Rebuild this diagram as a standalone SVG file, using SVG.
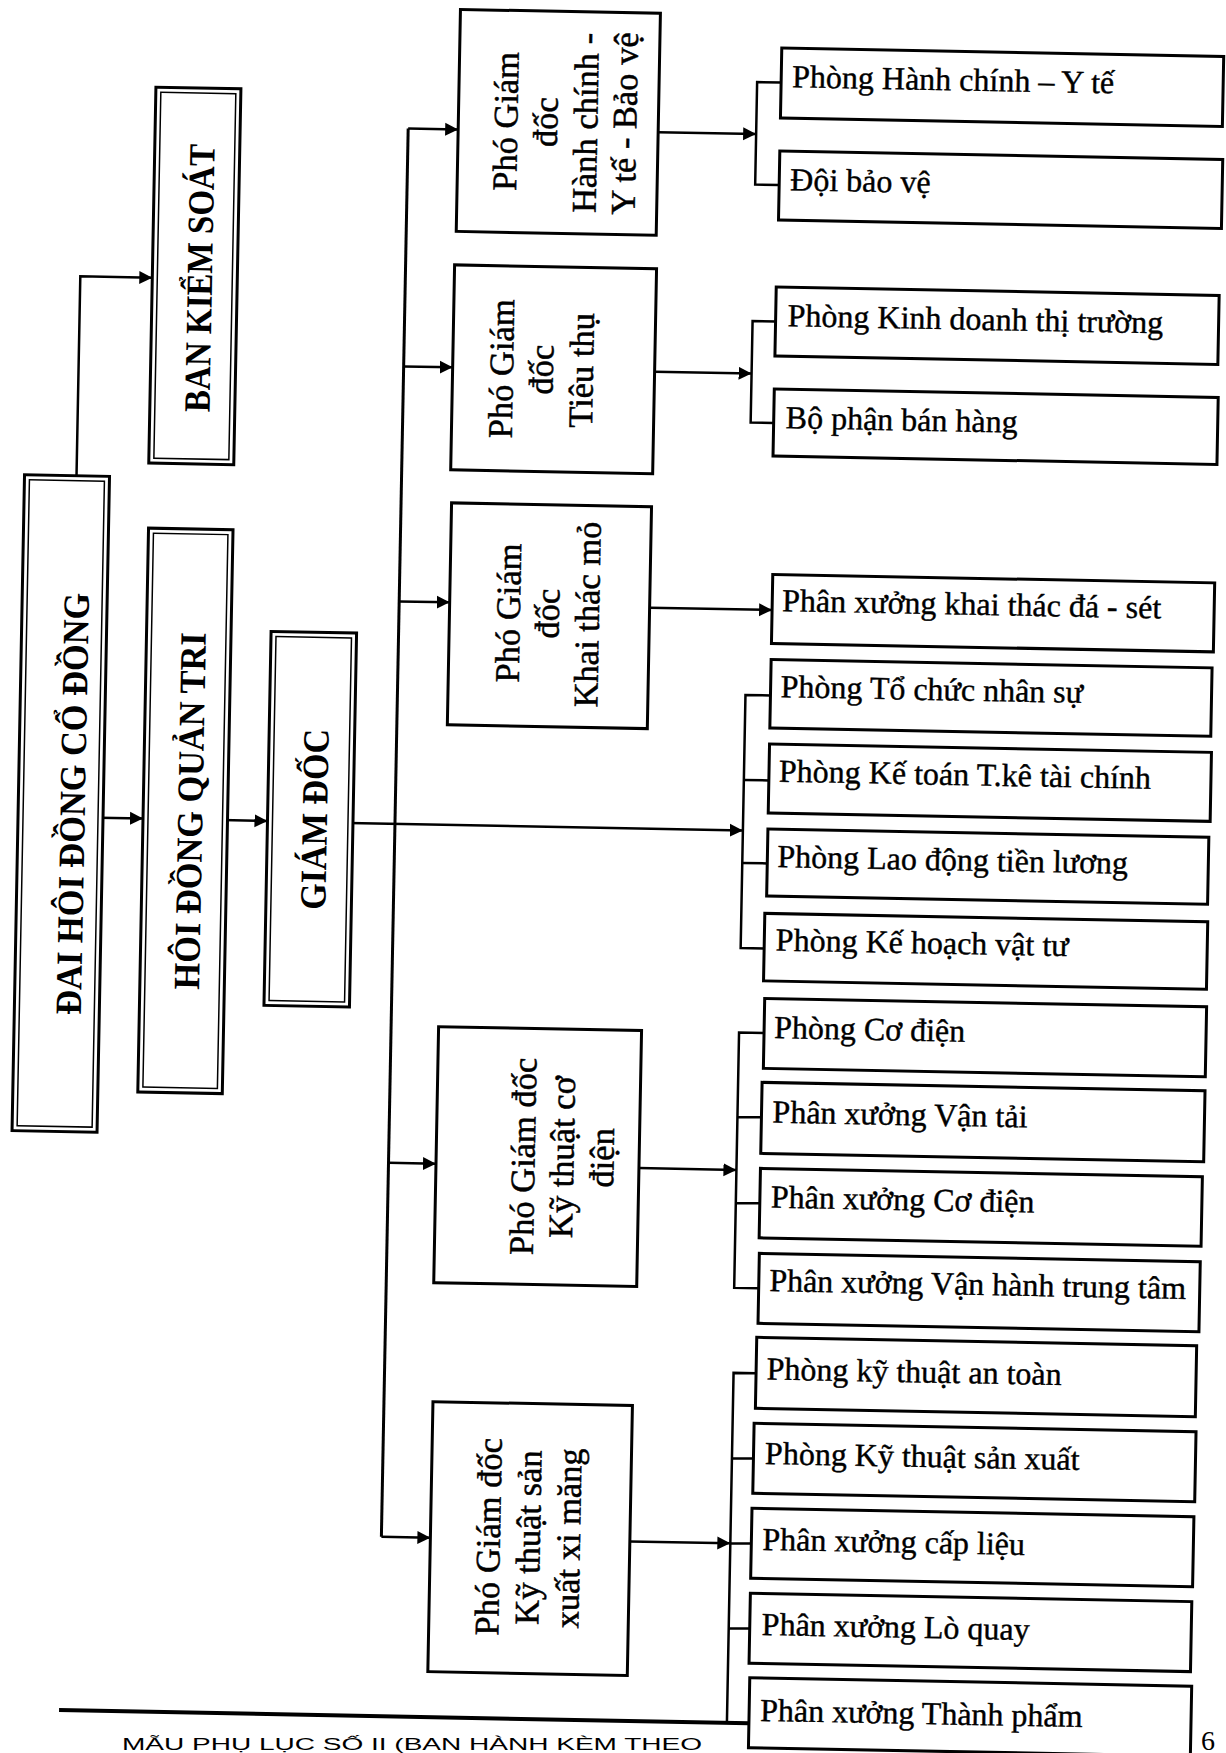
<svg xmlns="http://www.w3.org/2000/svg" width="1226" height="1753" viewBox="0 0 1226 1753">
<style>
.box{fill:#fff;stroke:#000;stroke-width:3}
.inner{fill:none;stroke:#000;stroke-width:1.5}
.conn{fill:none;stroke:#000;stroke-width:2.5}
.rule{fill:none;stroke:#000;stroke-width:4}
.tl{font-family:"Liberation Serif","Times New Roman",serif;font-weight:bold;font-size:37px;fill:#000}
.tp{font-family:"Liberation Serif","Times New Roman",serif;font-size:34.5px;fill:#000;stroke:#000;stroke-width:0.5}
.tb{font-family:"Liberation Serif","Times New Roman",serif;font-size:32px;fill:#000;stroke:#000;stroke-width:0.4}
.tf{font-family:"Liberation Sans",Arial,sans-serif;font-size:16px;fill:#000}
.tn{font-family:"Liberation Serif","Times New Roman",serif;font-size:28px;fill:#000}
</style>
<defs>
<marker id="arr" markerUnits="userSpaceOnUse" markerWidth="14" markerHeight="14" refX="13" refY="7" orient="auto" viewBox="0 0 14 14">
<path d="M0,0.5 L13,7 L0,13.5 z" fill="#000"/>
</marker>
</defs>
<rect x="0" y="0" width="1226" height="1753" fill="#fff"/>
<g transform="rotate(1.09 613 876)">
<g id="connectors">
<path class="conn" d="M69,486 V286.5 H141" marker-end="url(#arr)"/>
<path class="conn" d="M98,827.5 H142" marker-end="url(#arr)"/>
<path class="conn" d="M221,827.5 H266.5" marker-end="url(#arr)"/>
<path class="conn" d="M348,828 H742" marker-end="url(#arr)"/>
<path class="conn" style="stroke-width:3" d="M394,132.5 V1541"/>
<path class="conn" d="M394,132.5 H444" marker-end="url(#arr)"/>
<path class="conn" d="M394,370.5 H443" marker-end="url(#arr)"/>
<path class="conn" d="M394,605.5 H444.5" marker-end="url(#arr)"/>
<path class="conn" d="M394,1167 H441.5" marker-end="url(#arr)"/>
<path class="conn" d="M394,1541 H443" marker-end="url(#arr)"/>
<path class="conn" d="M644,131.5 H742" marker-end="url(#arr)"/>
<path class="conn" d="M766,79.5 H742 V182 H766"/>
<path class="conn" d="M645,371 H742" marker-end="url(#arr)"/>
<path class="conn" d="M765,318.5 H742 V420 H765"/>
<path class="conn" d="M644.5,607 H767" marker-end="url(#arr)"/>
<path class="conn" d="M767,692.5 H742 V945.5 H765.5"/>
<path class="conn" d="M742,777.5 H767 M742,860.5 H767"/>
<path class="conn" d="M644.5,1167.5 H742" marker-end="url(#arr)"/>
<path class="conn" d="M767,1030 H742 V1285.5 H766.5 M742,1114.5 H766 M742,1200.5 H766"/>
<path class="conn" d="M642.5,1541 H743" marker-end="url(#arr)"/>
<path class="conn" d="M765.5,1370.5 H743 V1720.5 H765 M743,1455.8 H764.5 M743,1540.8 H764 M743,1625.8 H764"/>
</g>
<g id="footer-rule"><path class="rule" d="M75,1720.5 H765"/></g>

<g id="dai-hoi-dong-co-dong">
<rect class="box" x="17" y="486" width="85" height="656"/>
<rect class="inner" x="22" y="491" width="75" height="646"/>
<text class="tl" transform="translate(83.6,814) rotate(-90)" text-anchor="middle" textLength="422" lengthAdjust="spacingAndGlyphs">ĐAI HÔI ĐỒNG CỔ ĐỒNG</text>
</g>
<g id="ban-kiem-soat">
<rect class="box" x="141" y="96" width="85" height="376"/>
<rect class="inner" x="146" y="101" width="75" height="366"/>
<text class="tl" transform="translate(200.7,286) rotate(-90)" text-anchor="middle" textLength="268" lengthAdjust="spacingAndGlyphs">BAN KIỂM SOÁT</text>
</g>
<g id="hoi-dong-quan-tri">
<rect class="box" x="142" y="537" width="84.5" height="564"/>
<rect class="inner" x="147" y="542" width="74.5" height="554"/>
<text class="tl" transform="translate(201.3,819) rotate(-90)" text-anchor="middle" textLength="357" lengthAdjust="spacingAndGlyphs">HÔI ĐỒNG QUẢN TRI</text>
</g>
<g id="giam-doc">
<rect class="box" x="266.5" y="638" width="85.5" height="374"/>
<rect class="inner" x="271.5" y="643" width="75.5" height="364"/>
<text class="tl" transform="translate(325.9,825) rotate(-90)" text-anchor="middle" textLength="181" lengthAdjust="spacingAndGlyphs">GIÁM ĐỐC</text>
</g>

<g id="pgd-hanh-chinh">
<rect class="box" x="444" y="12.5" width="200" height="222"/>
<text class="tp" transform="translate(503,123.5) rotate(-90)" text-anchor="middle">Phó Giám</text>
<text class="tp" transform="translate(543,123.5) rotate(-90)" text-anchor="middle">đốc</text>
<text class="tp" transform="translate(583,123.5) rotate(-90)" text-anchor="middle">Hành chính -</text>
<text class="tp" transform="translate(622,123.5) rotate(-90)" text-anchor="middle">Y tế - Bảo vệ</text>
</g>
<g id="pgd-tieu-thu">
<rect class="box" x="443" y="268" width="202" height="205"/>
<text class="tp" transform="translate(503.4,371) rotate(-90)" text-anchor="middle">Phó Giám</text>
<text class="tp" transform="translate(543.4,371) rotate(-90)" text-anchor="middle">đốc</text>
<text class="tp" transform="translate(583.4,371) rotate(-90)" text-anchor="middle">Tiêu thụ</text>
</g>
<g id="pgd-khai-thac-mo">
<rect class="box" x="444.5" y="506" width="200" height="222"/>
<text class="tp" transform="translate(515,615) rotate(-90)" text-anchor="middle">Phó Giám</text>
<text class="tp" transform="translate(554,615) rotate(-90)" text-anchor="middle">đốc</text>
<text class="tp" transform="translate(594,615) rotate(-90)" text-anchor="middle">Khai thác mỏ</text>
</g>
<g id="pgd-ky-thuat-co-dien">
<rect class="box" x="441.5" y="1030" width="203" height="256"/>
<text class="tp" transform="translate(540,1158) rotate(-90)" text-anchor="middle">Phó Giám đốc</text>
<text class="tp" transform="translate(579,1158) rotate(-90)" text-anchor="middle">Kỹ thuật cơ</text>
<text class="tp" transform="translate(619,1158) rotate(-90)" text-anchor="middle">điện</text>
</g>
<g id="pgd-ky-thuat-san-xuat">
<rect class="box" x="443" y="1405" width="199.5" height="270"/>
<text class="tp" transform="translate(512.6,1539) rotate(-90)" text-anchor="middle">Phó Giám đốc</text>
<text class="tp" transform="translate(552.6,1539) rotate(-90)" text-anchor="middle">Kỹ thuật sản</text>
<text class="tp" transform="translate(592.6,1539) rotate(-90)" text-anchor="middle">xuất xi măng</text>
</g>

<g id="phong-hanh-chinh"><rect class="box" x="766" y="45" width="442" height="70"/><text class="tb" x="777" y="84">Phòng Hành chính – Y tế</text></g>
<g id="doi-bao-ve"><rect class="box" x="766" y="148" width="443" height="69"/><text class="tb" x="777" y="187">Đội bảo vệ</text></g>
<g id="phong-kinh-doanh"><rect class="box" x="765" y="284" width="443" height="69"/><text class="tb" x="777" y="323">Phòng Kinh doanh thị trường</text></g>
<g id="bo-phan-ban-hang"><rect class="box" x="765" y="386" width="444" height="67"/><text class="tb" x="777" y="425">Bộ phận bán hàng</text></g>
<g id="px-khai-thac"><rect class="box" x="767" y="571.5" width="442" height="69"/><text class="tb" x="777" y="608">Phân xưởng khai thác đá - sét</text></g>
<g id="phong-to-chuc"><rect class="box" x="767" y="656.5" width="441" height="68.5"/><text class="tb" x="777" y="694">Phòng Tổ chức nhân sự</text></g>
<g id="phong-ke-toan"><rect class="box" x="767" y="741" width="442" height="69"/><text class="tb" x="777" y="778.5">Phòng Kế toán T.kê tài chính</text></g>
<g id="phong-lao-dong"><rect class="box" x="767" y="826" width="441" height="67"/><text class="tb" x="777" y="864">Phòng Lao động tiền lương</text></g>
<g id="phong-ke-hoach"><rect class="box" x="765.5" y="910.5" width="443" height="67.5"/><text class="tb" x="777" y="947.5">Phòng Kế hoạch vật tư</text></g>
<g id="phong-co-dien"><rect class="box" x="767" y="995.5" width="442" height="70"/><text class="tb" x="777" y="1035">Phòng Cơ điện</text></g>
<g id="px-van-tai"><rect class="box" x="766" y="1079.5" width="443" height="71"/><text class="tb" x="777" y="1119.5">Phân xưởng Vận tải</text></g>
<g id="px-co-dien"><rect class="box" x="766" y="1165.5" width="442" height="69.5"/><text class="tb" x="777" y="1204.5">Phân xưởng Cơ điện</text></g>
<g id="px-van-hanh"><rect class="box" x="766.5" y="1250.5" width="441" height="70"/><text class="tb" x="777" y="1288">Phân xưởng Vận hành trung tâm</text></g>
<g id="phong-ky-thuat-an-toan"><rect class="box" x="765.5" y="1334.5" width="440" height="71"/><text class="tb" x="776" y="1376.5">Phòng kỹ thuật an toàn</text></g>
<g id="phong-ky-thuat-san-xuat"><rect class="box" x="764.5" y="1420.5" width="442" height="70"/><text class="tb" x="776" y="1461">Phòng Kỹ thuật sản xuất</text></g>
<g id="px-cap-lieu"><rect class="box" x="764" y="1505.5" width="442" height="70"/><text class="tb" x="775" y="1547">Phân xưởng cấp liệu</text></g>
<g id="px-lo-quay"><rect class="box" x="764" y="1590.5" width="441.5" height="70"/><text class="tb" x="776" y="1632">Phân xưởng Lò quay</text></g>
<g id="px-thanh-pham"><rect class="box" x="765" y="1675" width="442" height="70"/><text class="tb" x="776" y="1718">Phân xưởng Thành phẩm</text></g>
</g>
<g id="page-footer">
<text class="tf" x="122" y="1750" textLength="580" lengthAdjust="spacingAndGlyphs">MẪU PHỤ LỤC SỐ II (BAN HÀNH KÈM THEO</text>
<text class="tn" x="1201" y="1750">6</text>
</g>
</svg>
